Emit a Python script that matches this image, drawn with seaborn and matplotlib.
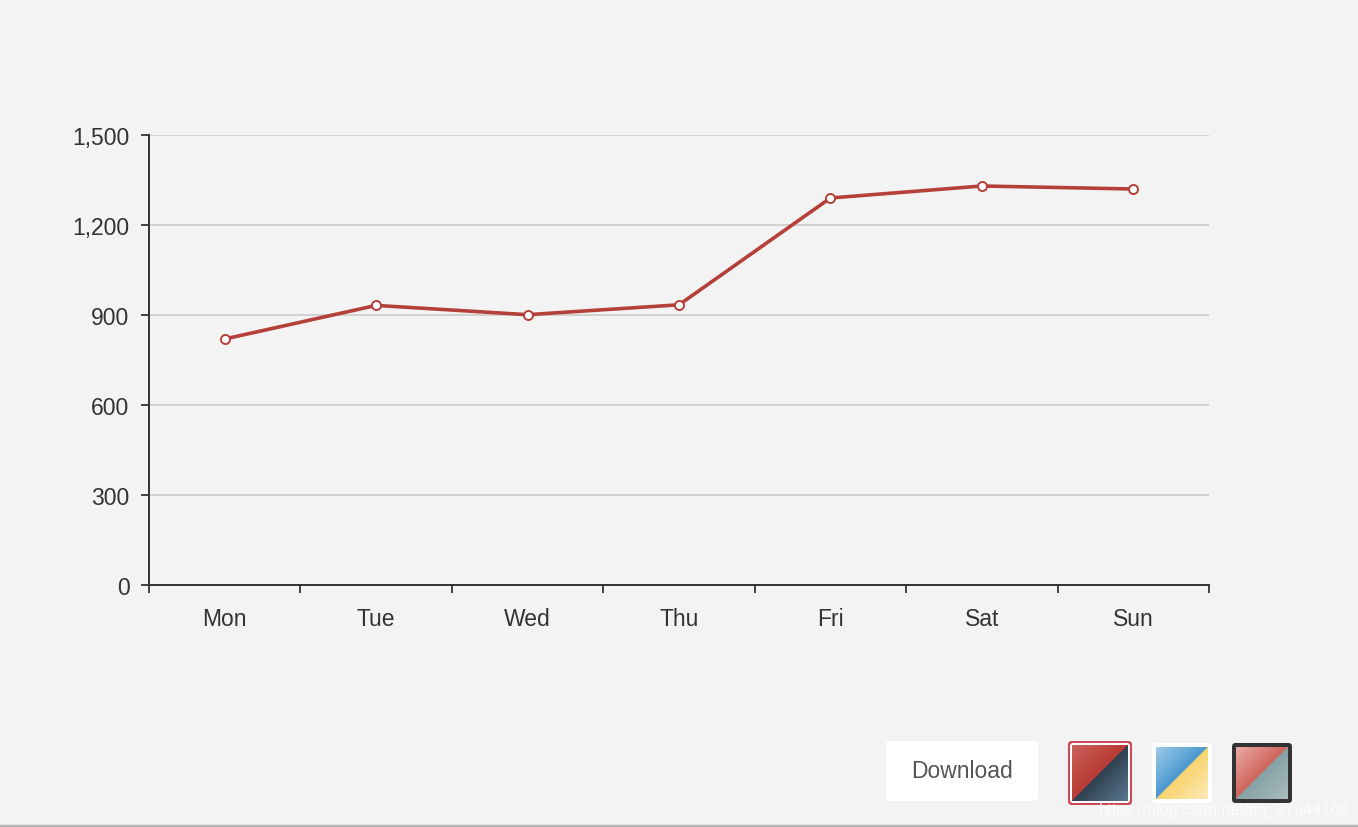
import numpy as np
import pandas as pd
import matplotlib
matplotlib.use("Agg")
import matplotlib.pyplot as plt
import seaborn as sns
from matplotlib.patches import FancyBboxPatch
from matplotlib.ticker import FuncFormatter

days = ["Mon", "Tue", "Wed", "Thu", "Fri", "Sat", "Sun"]
values = [820, 932, 901, 934, 1290, 1330, 1320]
y_ticks = [0, 300, 600, 900, 1200, 1500]

BG = "#f3f3f3"
LINE = "#b5403a"
TXT = "#333333"

sns.set_theme(style="white")
plt.rcParams['font.family'] = ['Liberation Sans', 'DejaVu Sans']

W, H = 1358, 828
fig = plt.figure(figsize=(W / 100, H / 100), dpi=100, facecolor=BG)

def fx(px):
    return px / W

def fy(py):
    return 1 - py / H

ax = fig.add_axes([fx(149), fy(586), fx(1209) - fx(149), fy(136) - fy(586)])
ax.set_facecolor(BG)

df = pd.DataFrame({"day": np.arange(len(days)), "value": values})
sns.lineplot(data=df, x="day", y="value", ax=ax, color=LINE, linewidth=2.6,
             marker="o", markersize=6.5, markerfacecolor="white",
             markeredgecolor=LINE, markeredgewidth=1.4, zorder=5)

ax.set_xlim(-0.5, len(days) - 0.5)
ax.set_ylim(0, 1500)
ax.set_yticks(y_ticks)
ax.yaxis.set_major_formatter(FuncFormatter(lambda v, p: f"{int(v):,}"))
ax.set_xticks(np.arange(-0.5, len(days), 1.0))
ax.set_xticklabels([])
ax.set_xticks(np.arange(len(days)), minor=True)
ax.set_xticklabels(days, minor=True)
ax.tick_params(axis="x", which="minor", bottom=False, length=0, pad=16,
               labelsize=16.5, labelcolor=TXT)
ax.tick_params(axis="x", which="major", bottom=True, length=6, width=1.3,
               color=TXT, direction="out")
ax.tick_params(axis="y", left=True, length=6, width=1.3, color=TXT, direction="out",
               pad=8, labelsize=16.5, labelcolor=TXT)
ax.grid(axis="y", color="#cccccc", linewidth=1.2)
ax.set_axisbelow(True)
for s in ["top", "right"]:
    ax.spines[s].set_visible(False)
for s in ["left", "bottom"]:
    ax.spines[s].set_color(TXT)
    ax.spines[s].set_linewidth(1.4)
ax.set_xlabel("")
ax.set_ylabel("")

# Download button
btn = FancyBboxPatch((fx(886), fy(802)), fx(1038) - fx(886), fy(742) - fy(802),
                     boxstyle="round,pad=0,rounding_size=0.004",
                     transform=fig.transFigure, facecolor="white", edgecolor="none")
fig.patches.append(btn)
fig.text(fx(962), fy(772), "Download", ha="center", va="center", fontsize=16.5, color="#555555")

def hex2rgb(h):
    h = h.lstrip("#")
    return np.array([int(h[i:i + 2], 16) / 255 for i in (0, 2, 4)])

def box(x0, y0, x1, y1, color, z):
    b = fig.add_axes([fx(x0), fy(y1), fx(x1) - fx(x0), fy(y0) - fy(y1)])
    b.set_facecolor("none")
    b.set_xticks([]); b.set_yticks([])
    for sp in b.spines.values():
        sp.set_visible(False)
    b.set_xlim(0, 1); b.set_ylim(0, 1)
    b.add_patch(FancyBboxPatch((0, 0), 1, 1, boxstyle="round,pad=0,rounding_size=0.06",
                               facecolor=color, edgecolor="none", transform=b.transAxes))
    b.set_zorder(z)

def swatch(x0, y0, x1, y1, layers, tl_a, tl_b, br_a, br_b):
    z = 3
    for color, inset in layers:
        box(x0 + inset, y0 + inset, x1 - inset, y1 - inset, color, z)
        z += 1
    bw = layers[-1][1] + 2 if len(layers) > 1 else layers[-1][1] + 4
    ix0, iy0, ix1, iy1 = x0 + bw, y0 + bw, x1 - bw, y1 - bw
    sax = fig.add_axes([fx(ix0), fy(iy1), fx(ix1) - fx(ix0), fy(iy0) - fy(iy1)])
    sax.set_zorder(z)
    n = 100
    i, j = np.mgrid[0:n, 0:n]
    s = (i + j) / (2 * (n - 1))  # 0 at top-left, 1 at bottom-right
    img = np.zeros((n, n, 3))
    A1, A2, B1, B2 = map(hex2rgb, (tl_a, tl_b, br_a, br_b))
    top = s < 0.5
    t_top = s / 0.5
    t_bot = (s - 0.5) / 0.5
    for c in range(3):
        img[..., c] = np.where(top, A1[c] + (A2[c] - A1[c]) * t_top,
                               B1[c] + (B2[c] - B1[c]) * t_bot)
    sax.imshow(img, aspect="auto", interpolation="bilinear")
    sax.axis("off")

swatch(1068, 742, 1132, 806, [("#cc4a58", 0), ("#ffffff", 2)],
       "#cc625c", "#b83a34", "#2f4050", "#5a7890")
swatch(1152, 744, 1212, 804, [("#ffffff", 0)],
       "#9ccbe8", "#4a98d0", "#f8d56e", "#fde9b8")
swatch(1232, 744, 1292, 804, [("#333333", 0)],
       "#e8aaa4", "#d0645c", "#86a2a6", "#a9bcbe")

t = fig.text(fx(1224), fy(810), "https://blog.csdn.net/qq_37944168", ha="center", va="center",
             fontsize=11.8, color="white", alpha=0.75)
t.set_zorder(10)

# bottom border line
fig.add_artist(plt.Line2D([0, 1], [fy(826.5), fy(826.5)], transform=fig.transFigure,
                          color="#b5b5b5", linewidth=2.5))

fig.savefig("out.png", dpi=100, facecolor=BG)
